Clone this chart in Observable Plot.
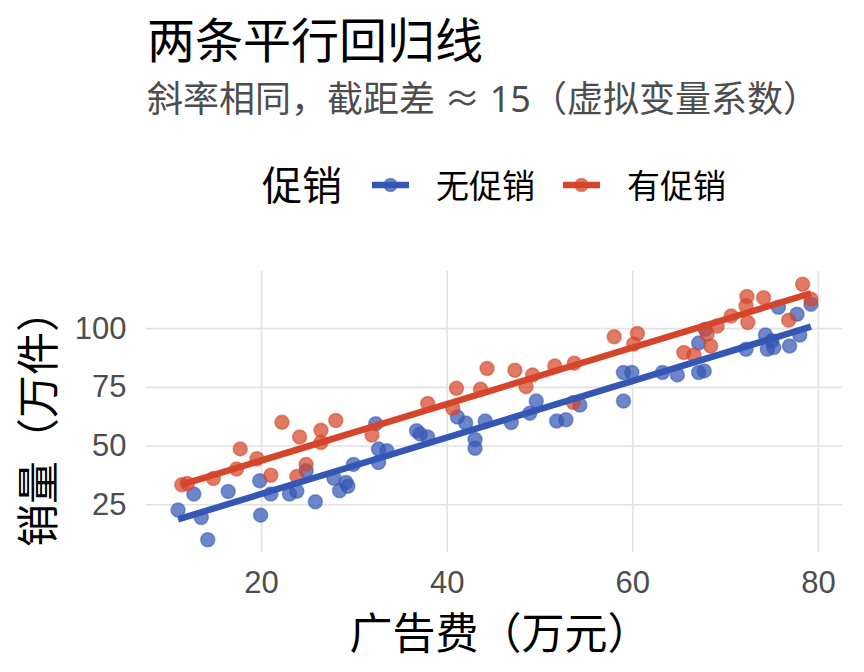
<!DOCTYPE html>
<html>
<head>
<meta charset="utf-8">
<script src="https://cdn.jsdelivr.net/npm/d3@7"></script>
<script src="https://cdn.jsdelivr.net/npm/@observablehq/plot@0.6"></script>
<style>
  html, body { margin: 0; padding: 0; background: #fff; }
  #wrap { position: relative; width: 864px; height: 672px; overflow: hidden; font-family: "Noto Sans CJK SC", "Noto Sans", sans-serif; }
  #title { position: absolute; left: 147px; top: 13px; font-size: 48px; line-height: 1; color: #000; white-space: nowrap; }
  #subtitle { position: absolute; left: 147px; top: 81px; font-size: 36px; line-height: 1; color: #4d4d4d; white-space: nowrap; font-family: "Noto Sans", "Noto Sans CJK SC", sans-serif; }
  #legend { position: absolute; left: 0; top: 0; width: 864px; height: 240px; }
  .lg { position: absolute; line-height: 1; white-space: nowrap; color: #000; }
  #chart { position: absolute; left: 0; top: 240px; }
  #chart svg { overflow: visible; }
  #xlabel { position: absolute; left: 146px; width: 696px; padding-left: 12px; box-sizing: border-box; top: 609px; font-size: 43px; line-height: 1; text-align: center; color: #000; white-space: nowrap; }
</style>
</head>
<body>
<div id="wrap">
  <div id="title"></div>
  <div id="subtitle"></div>
  <div id="legend"></div>
  <div id="chart"></div>
  <div id="xlabel"></div>
</div>
<script>
// ---- data ----
const groups = ["无促销", "有促销"];
const colors = ["#3457b5", "#d6452a"];
const titleText = "两条平行回归线";
const subtitleText = "斜率相同，截距差 ≈ 15（虚拟变量系数）";
const legendTitle = "促销";
const xLabel = "广告费（万元）";
const yLabel = "销量（万件）";
const xTicks = [20, 40, 60, 80];
const yTicks = [25, 50, 75, 100];

const noPromoX = [11.0, 12.7, 13.5, 14.2, 16.4, 19.8, 19.9, 21.0, 23.0, 23.8, 24.8, 25.8, 27.8, 28.4, 29.1, 29.3, 29.9, 32.3, 32.6, 33.5, 32.6, 36.7, 37.1, 37.9, 41.1, 42.0, 43.0, 43.0, 44.1, 46.9, 48.9, 49.6, 51.8, 52.8, 54.3, 59.0, 59.9, 59.0, 63.2, 64.8, 67.1, 67.7, 67.1, 67.8, 72.2, 74.3, 74.5, 75.0, 75.2, 75.7, 76.9, 77.7, 78.0, 79.2];
const noPromoY = [22.8, 29.6, 19.6, 10.1, 30.7, 35.2, 20.6, 29.6, 29.6, 30.8, 39.5, 26.3, 36.3, 31.0, 34.5, 32.9, 42.2, 59.5, 48.7, 48.0, 43.0, 56.5, 55.1, 53.9, 62.4, 59.8, 52.8, 49.1, 60.7, 60.0, 64.0, 69.2, 60.7, 61.2, 67.5, 81.3, 81.3, 69.2, 81.3, 80.3, 81.3, 82.0, 93.9, 99.7, 91.2, 97.3, 91.2, 94.8, 91.9, 109.1, 92.6, 106.1, 97.3, 110.4];

const promoX = [11.4, 12.0, 14.8, 17.3, 17.7, 19.5, 21.0, 22.2, 24.1, 24.8, 23.8, 26.4, 26.4, 28.0, 31.9, 37.9, 40.6, 41.0, 43.6, 44.3, 47.3, 49.2, 48.5, 51.6, 53.7, 53.6, 58.0, 60.5, 60.1, 65.5, 66.6, 68.4, 68.0, 69.1, 70.6, 72.3, 72.2, 72.4, 74.1, 78.3, 79.2, 76.8];
const promoY = [33.5, 34.1, 36.2, 40.2, 48.8, 44.6, 37.6, 60.1, 53.9, 42.2, 37.1, 56.7, 51.5, 60.9, 54.7, 68.1, 66.1, 74.6, 74.2, 83.0, 82.3, 80.2, 75.3, 84.1, 85.3, 68.5, 96.5, 97.9, 93.4, 89.8, 88.8, 92.6, 97.7, 101.1, 105.4, 113.7, 109.7, 102.6, 113.1, 118.9, 112.5, 103.6];

// ---- titles ----
document.getElementById("title").textContent = titleText;
document.getElementById("subtitle").textContent = subtitleText;
document.getElementById("xlabel").textContent = xLabel;

// ---- build table ----
const points = [
  ...noPromoX.map((x, i) => ({x, y: noPromoY[i], g: groups[0]})),
  ...promoX.map((x, i) => ({x, y: promoY[i], g: groups[1]}))
];

// parallel-lines fit (common slope, group intercepts)
const series = [[noPromoX, noPromoY], [promoX, promoY]];
let sxy = 0, sxx = 0;
const means = series.map(([xs, ys]) => [d3.mean(xs), d3.mean(ys)]);
series.forEach(([xs, ys], k) => {
  const [mx, my] = means[k];
  xs.forEach((x, i) => { sxy += (x - mx) * (ys[i] - my); sxx += (x - mx) ** 2; });
});
const slope = sxy / sxx;
const fitLines = [];
series.forEach(([xs], k) => {
  const a = means[k][1] - slope * means[k][0];
  const [lo, hi] = d3.extent(xs);
  fitLines.push({x: lo, y: a + slope * lo, g: groups[k]});
  fitLines.push({x: hi, y: a + slope * hi, g: groups[k]});
});

const color = {domain: groups, range: colors};
const tickFont = "Liberation Sans, Arial, sans-serif";
const labFont = "Noto Sans CJK SC";

const plot = Plot.plot({
  width: 864,
  height: 432,
  marginTop: 31,
  marginBottom: 120,
  marginLeft: 146,
  marginRight: 22,
  style: {background: "transparent", fontFamily: tickFont, overflow: "visible"},
  x: {domain: [7.6, 82.6]},
  y: {domain: [4.7, 124.3]},
  color,
  marks: [
    Plot.gridX(xTicks, {stroke: "#e2e2e2", strokeOpacity: 1, strokeWidth: 1.6}),
    Plot.gridY(yTicks, {stroke: "#e2e2e2", strokeOpacity: 1, strokeWidth: 1.6}),
    Plot.axisX(xTicks, {tickSize: 0, tickPadding: 18, fontSize: 31, fill: "#4d4d4d", label: null, fontFamily: tickFont}),
    Plot.axisY(yTicks, {tickSize: 0, tickPadding: 20, fontSize: 31, fill: "#4d4d4d", label: null, fontFamily: tickFont}),
    Plot.dot(points, {x: "x", y: "y", r: 7, fill: "g", fillOpacity: 0.72, stroke: "g", strokeOpacity: 0.55, strokeWidth: 1.5}),
    Plot.line(fitLines, {x: "x", y: "y", z: "g", stroke: "g", strokeWidth: 6.5, strokeLinecap: "butt"}),
    Plot.text([yLabel], {frameAnchor: "left", textAnchor: "middle", dx: -106, dy: 6, rotate: -90, fontSize: 43, fill: "#000", fontFamily: labFont})
  ]
});
document.getElementById("chart").appendChild(plot);

// ---- legend ----
const lg = document.getElementById("legend");
const ttl = document.createElement("div");
ttl.className = "lg";
ttl.style.cssText = "left:262px;top:163px;font-size:40px;";
ttl.textContent = legendTitle;
lg.appendChild(ttl);
const keyX = [372, 563];
const labX = [436, 627];
groups.forEach((g, k) => {
  const svg = d3.create("svg").attr("width", 40).attr("height", 20)
    .style("position", "absolute").style("left", keyX[k] + "px").style("top", "175px");
  svg.append("line").attr("x1", 0).attr("x2", 37).attr("y1", 10).attr("y2", 10)
    .attr("stroke", colors[k]).attr("stroke-width", 6.5);
  svg.append("circle").attr("cx", 18.5).attr("cy", 10).attr("r", 6.5)
    .attr("fill", colors[k]).attr("fill-opacity", 0.72)
    .attr("stroke", colors[k]).attr("stroke-opacity", 0.55).attr("stroke-width", 1.5);
  lg.appendChild(svg.node());
  const t = document.createElement("div");
  t.className = "lg";
  t.style.cssText = `left:${labX[k]}px;top:168px;font-size:33px;`;
  t.textContent = g;
  lg.appendChild(t);
});
</script>
</body>
</html>
